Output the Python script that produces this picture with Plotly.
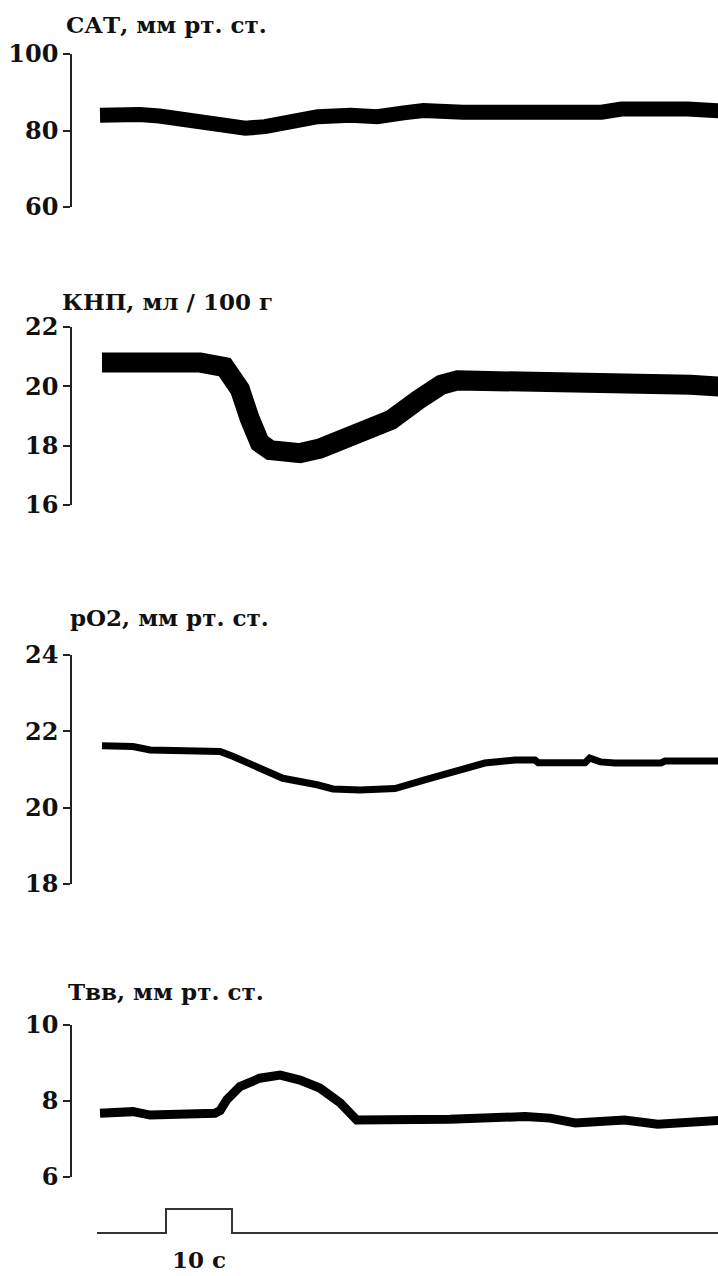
import plotly.graph_objects as go

# ---- data (time in seconds) ----
sat_t = [0, 3, 6, 9, 11, 14, 16, 19, 22, 25, 27, 30, 33, 38, 42, 46, 49, 55, 61, 70, 76, 79, 85, 89, 95]
sat_v = [84.0, 84.5, 84.2, 83.8, 83.2, 82.5, 81.5, 80.8, 80.6, 81.0, 81.8, 82.8, 83.6, 84.0, 83.6,
         84.6, 85.2, 84.8, 84.6, 84.6, 84.8, 85.6, 86.0, 85.6, 85.0]

knp_t = [0.3, 7.6, 15.2, 18.9, 21.2, 22.7, 24.2, 25.8, 28.8, 30.3, 33.3, 36.4, 39.1, 44.1, 48.2,
         51.7, 54.2, 61.8, 66.8, 74.4, 84.5, 89.5, 95]
knp_v = [20.8, 20.85, 20.8, 20.65, 19.9, 18.9, 18.1, 17.85, 17.75, 17.75, 17.9, 18.2, 18.45, 18.87,
         19.54, 20.05, 20.2, 20.2, 20.05, 20.2, 20.2, 20.05, 19.98]

po2_t = [0.3, 5, 7.6, 18.2, 20.2, 25.3, 27.7, 32.9, 35.3, 39.4, 44.1, 44.7, 49.2, 54.2, 58.3, 62.9,
         65.9, 66.4, 73.5, 74.2, 75.8, 78, 85, 85.6, 95]
po2_v = [21.62, 21.6, 21.51, 21.47, 21.34, 20.94, 20.77, 20.6, 20.49, 20.46, 20.49, 20.5, 20.73,
         20.99, 21.17, 21.25, 21.25, 21.18, 21.18, 21.3, 21.2, 21.17, 21.17, 21.22, 21.22]

tvv_t = [0, 5, 7.6, 12.6, 17.4, 18.2, 19.2, 21.2, 24.2, 27.3, 30.3, 33.3, 36.4, 38.9, 42.4, 53,
         64.4, 68.2, 72, 79.5, 84.5, 89.4, 95]
tvv_v = [7.68, 7.72, 7.63, 7.66, 7.68, 7.75, 8.03, 8.38, 8.6, 8.68, 8.55, 8.34, 7.95, 7.5, 7.5, 7.52,
         7.59, 7.55, 7.42, 7.5, 7.39, 7.45, 7.5]

stim_t = [-0.45, 10, 20, 95]
stim_v = [0, 1, 0, 0]

titles = ["САТ, мм рт. ст.", "КНП, мл / 100 г", "pO2, мм рт. ст.", "Твв, мм рт. ст."]
ticks = [[60, 80, 100], [16, 18, 20, 22], [18, 20, 22, 24], [6, 8, 10]]
ranges = [[60, 100], [16, 22], [18, 24], [6, 10]]

# ---- layout geometry (pixels) ----
W, H = 718, 1276
FONT = "DejaVu Serif"
px_top = [54, 327, 655, 1025]
px_bot = [207, 505, 884, 1177]
title_y = [25, 301, 617, 992]
title_x = [64, 60, 68, 66]
widths = [15, 20, 7, 9]

fig = go.Figure()
series = [(sat_t, sat_v), (knp_t, knp_v), (po2_t, po2_v), (tvv_t, tvv_v)]
for i, (t, v) in enumerate(series):
    ya = "y" if i == 0 else f"y{i+1}"
    fig.add_trace(go.Scatter(x=t, y=v, mode="lines", xaxis="x", yaxis=ya,
                             line=dict(color="#000000", width=widths[i]),
                             showlegend=False, hoverinfo="skip"))

fig.add_trace(go.Scatter(x=stim_t, y=stim_v, mode="lines", xaxis="x", yaxis="y5",
                         line=dict(color="#333333", width=2, shape="hv"),
                         showlegend=False, hoverinfo="skip"))

# x range: x pixel 72 -> left edge, 6.6 px per second, t=0 at x=100
x0 = (72 - 100) / 6.6
x1 = (718 - 100) / 6.6
layout = dict(
    width=W, height=H,
    margin=dict(l=0, r=0, t=0, b=0, autoexpand=False),
    paper_bgcolor="white", plot_bgcolor="white",
    xaxis=dict(domain=[72 / W, 1], range=[x0, x1], visible=False),
)
for i in range(4):
    key = "yaxis" if i == 0 else f"yaxis{i+1}"
    layout[key] = dict(
        domain=[1 - px_bot[i] / H, 1 - px_top[i] / H],
        range=ranges[i], anchor="x",
        tickvals=ticks[i], ticktext=[str(k) for k in ticks[i]],
        showline=True, linecolor="#222222", linewidth=1.5,
        ticks="outside", ticklen=7, tickwidth=1.5, tickcolor="#222222",
        showgrid=False, zeroline=False, automargin=False,
        tickfont=dict(family=FONT, size=24, color="#111111", weight="bold"),
    )
# stimulus axis: 0 at y=1233px, 1 at y=1209px, domain 1200..1240 px
layout["yaxis5"] = dict(domain=[1 - 1240 / H, 1 - 1200 / H],
                        range=[-7 / 24, 1 + 9 / 24], anchor="x", visible=False)
fig.update_layout(**layout)

for i in range(4):
    fig.add_annotation(text="<b>" + titles[i] + "</b>", xref="paper", yref="paper",
                       x=title_x[i] / W, y=1 - title_y[i] / H, xanchor="left", yanchor="middle",
                       showarrow=False, font=dict(family=FONT, size=23, color="#111111"))

fig.add_annotation(text="<b>10 с</b>", xref="x", yref="paper", x=15, y=1 - 1259 / H,
                   xanchor="center", yanchor="middle", showarrow=False,
                   font=dict(family=FONT, size=23, color="#111111"))

fig.write_html("out.html", config={"displayModeBar": False},
               post_script="document.body.style.margin='0';"
                           "document.documentElement.style.overflow='hidden';")
